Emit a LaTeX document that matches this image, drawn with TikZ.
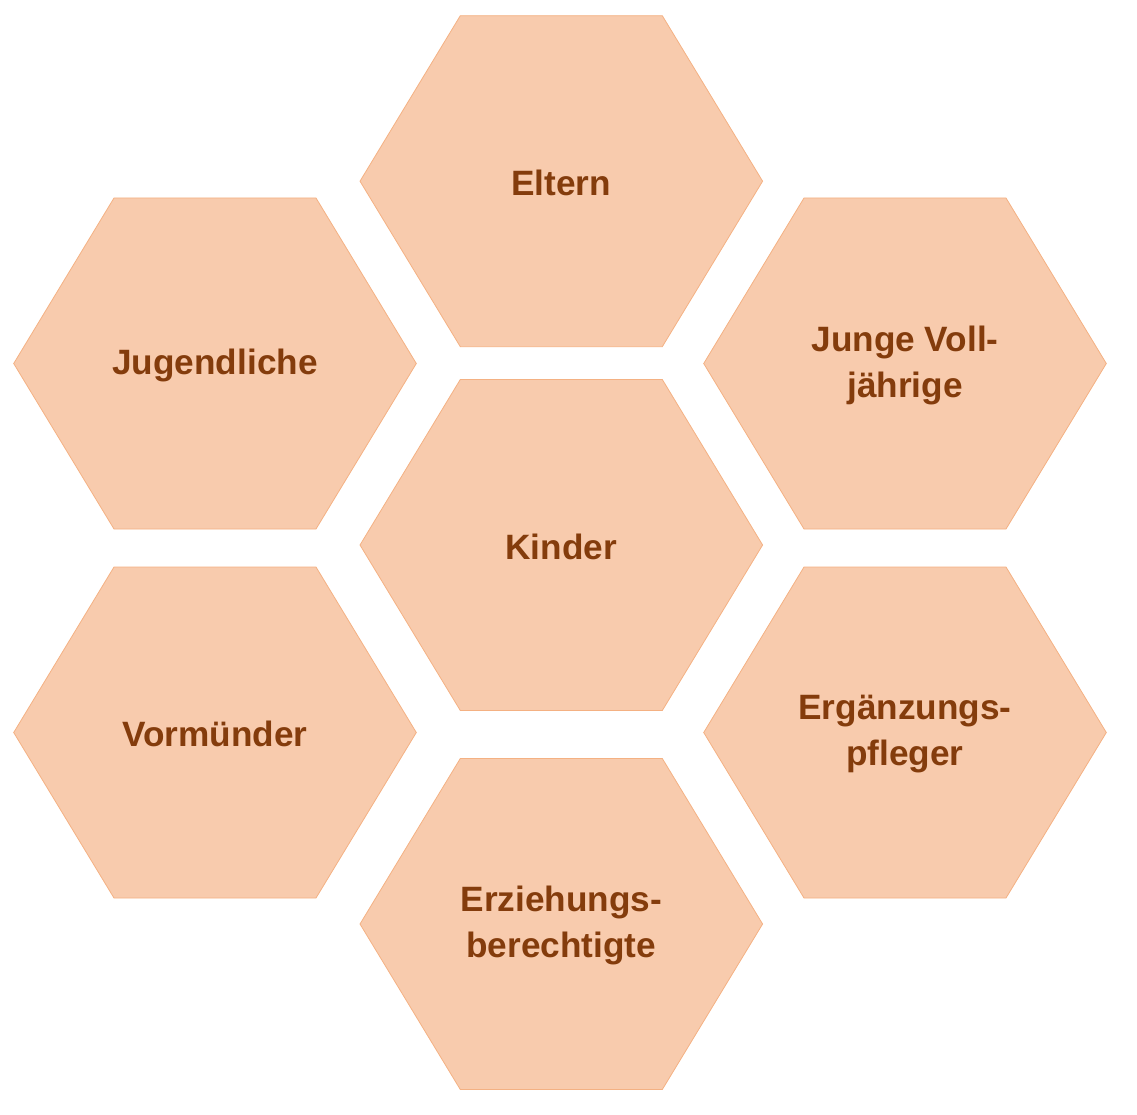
\documentclass[tikz,border=0pt]{standalone}
\usepackage{fontspec}
\setmainfont{Liberation Sans}
\usetikzlibrary{calc}
\definecolor{hexfill}{HTML}{F8CBAD}
\definecolor{hexline}{HTML}{F4B183}
\definecolor{hextext}{HTML}{843C0C}
\tikzset{
  hexshape/.style={fill=hexfill, draw=hexline, line width=0.8pt, line join=miter},
  hexlabel/.style={text=hextext, font=\fontsize{35.2}{46}\selectfont\bfseries, align=center, inner sep=0pt}
}
\newcommand\hexcell[4]{%
  \path[hexshape] (#2-201.3,#3) -- (#2-101,#3-165.5) -- (#2+101,#3-165.5) -- (#2+201.3,#3) -- (#2+101,#3+165.5) -- (#2-101,#3+165.5) -- cycle;
  \node[hexlabel] (#1) at (#2,#3+1.5) {#4};
}
\begin{document}
\begin{tikzpicture}[x=1pt,y=-1pt]
\useasboundingbox (0,0) rectangle (1137,1115);
\hexcell{eltern}{561.3}{181.2}{Eltern}
\hexcell{kinder}{561.3}{545}{Kinder}
\hexcell{erzieh}{561.3}{924}{Erziehungs-\\berechtigte}
\hexcell{jugend}{215}{363.5}{Jugendliche}
\hexcell{vormund}{215}{732.5}{Vormünder}
\hexcell{junge}{905}{363.5}{Junge Voll-\\jährige}
\hexcell{ergaenz}{905}{732.5}{Ergänzungs-\\pfleger}
\end{tikzpicture}
\end{document}
